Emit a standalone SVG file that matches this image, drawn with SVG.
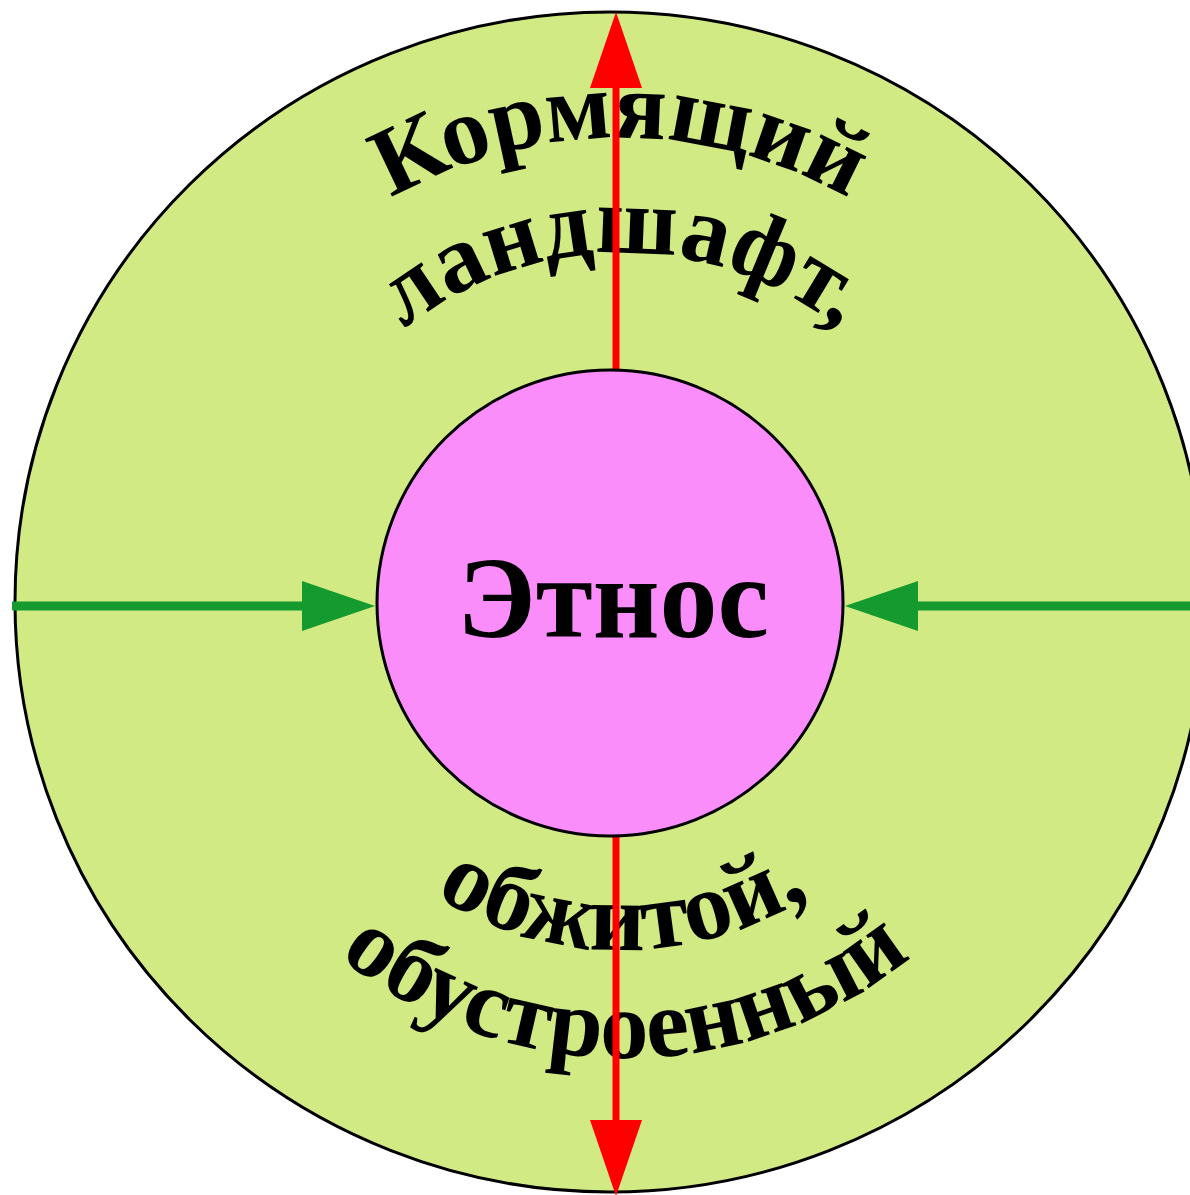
<svg xmlns="http://www.w3.org/2000/svg" width="1190" height="1195" viewBox="0 0 1190 1195">
<style>
.lbl{font-family:"Liberation Serif","Times New Roman",serif;font-weight:bold;fill:#000}
.arc{font-size:97px}
</style>
<defs>
<marker id="redHead" markerUnits="userSpaceOnUse" markerWidth="76" markerHeight="52" refX="0" refY="26" orient="auto" viewBox="0 0 76 52">
<path d="M0,0 L76,26 L0,52 z" fill="#ff0000"/>
</marker>
<marker id="greenHead" markerUnits="userSpaceOnUse" markerWidth="73" markerHeight="50" refX="0" refY="25" orient="auto" viewBox="0 0 73 50">
<path d="M0,0 L73,25 L0,50 z" fill="#159a30"/>
</marker>
<path id="arcTop1" d="M155,603 A465,465 0 0 1 1085,603"/>
<path id="arcTop2" d="M272,603 A350,350 0 0 1 972,603"/>
<path id="arcBot1" d="M275,603 A347,347 0 0 0 969,603"/>
<path id="arcBot2" d="M170,603 A455,455 0 0 0 1080,603"/>
</defs>
<g id="outer">
<ellipse cx="610" cy="602" rx="595" ry="590" fill="#d2ea83" stroke="#000" stroke-width="3"/>
<text class="lbl arc"><textPath href="#arcTop1" startOffset="50%" text-anchor="middle">Кормящий</textPath></text>
<text class="lbl arc"><textPath href="#arcTop2" startOffset="50%" text-anchor="middle">ландшафт,</textPath></text>
<text class="lbl arc"><textPath href="#arcBot1" startOffset="50%" text-anchor="middle">обжитой,</textPath></text>
<text class="lbl arc"><textPath href="#arcBot2" startOffset="50%" text-anchor="middle">обустроенный</textPath></text>
</g>
<g id="connectors">
<line x1="616" y1="370" x2="616" y2="88" stroke="#ff0000" stroke-width="7" marker-end="url(#redHead)"/>
<line x1="616" y1="836" x2="616" y2="1120" stroke="#ff0000" stroke-width="7" marker-end="url(#redHead)"/>
<line x1="12" y1="606" x2="302" y2="606" stroke="#159a30" stroke-width="9" marker-end="url(#greenHead)"/>
<line x1="1190" y1="606" x2="918" y2="606" stroke="#159a30" stroke-width="9" marker-end="url(#greenHead)"/>
</g>
<g id="ethnos">
<circle cx="610" cy="603" r="233" fill="#fb8dfb" stroke="#000" stroke-width="3"/>
<text class="lbl" x="613" y="637" font-size="116" text-anchor="middle">Этнос</text>
</g>
</svg>
